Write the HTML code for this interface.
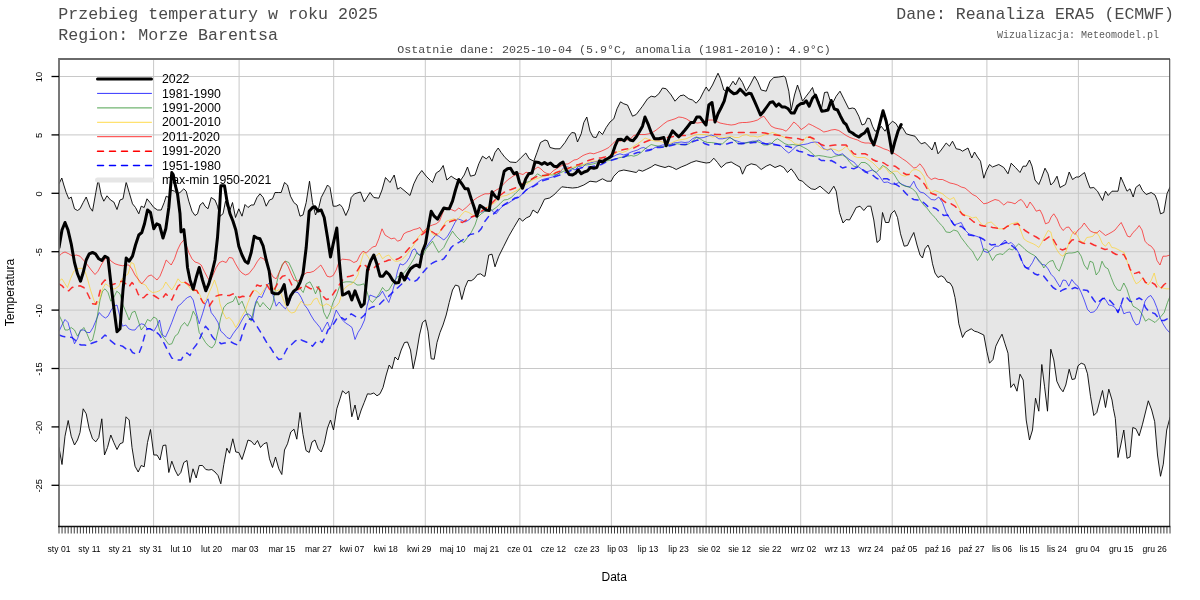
<!DOCTYPE html>
<html lang="pl"><head><meta charset="utf-8"><title>Przebieg temperatury w roku 2025</title>
<style>html,body{margin:0;padding:0;background:#fff;}body{width:1200px;height:600px;overflow:hidden;}svg{display:block;will-change:transform;}.mono{font-family:"Liberation Mono",monospace;fill:#4a4a4a;}.sans{font-family:"Liberation Sans",sans-serif;fill:#000;}</style></head><body>
<svg width="1200" height="600" viewBox="0 0 1200 600">
<rect width="1200" height="600" fill="#fff"/>
<defs><clipPath id="c"><rect x="59.0" y="59.0" width="1111.0" height="467.5"/></clipPath></defs>
<polygon clip-path="url(#c)" points="59.0,183.8 61.8,178.0 63.8,185.0 66.2,192.5 68.8,198.8 71.2,197.0 74.5,208.8 77.5,210.5 80.0,208.8 83.2,202.5 86.2,197.0 90.0,207.5 92.5,211.2 95.8,192.5 98.2,179.5 101.2,195.0 103.8,201.2 107.0,195.8 110.5,200.0 113.8,202.0 117.0,209.5 120.0,200.0 123.0,198.8 126.2,182.0 129.2,192.5 132.5,203.8 135.5,207.5 138.8,213.8 141.2,206.2 144.2,207.5 147.0,198.8 150.0,202.5 153.8,207.5 157.5,210.0 161.2,210.0 164.2,202.5 166.2,196.2 168.8,197.5 171.2,190.0 174.5,191.2 177.5,193.8 180.0,192.5 183.8,188.8 186.2,191.2 188.8,201.2 192.0,211.2 195.0,215.5 197.5,213.8 200.0,205.0 203.0,202.5 205.0,206.2 208.0,208.8 211.2,197.5 215.0,200.0 217.5,206.2 220.0,216.2 223.0,213.8 225.5,201.2 227.5,207.5 230.0,210.0 232.5,202.5 235.5,217.5 238.8,208.8 242.0,216.2 245.0,204.5 248.0,207.5 251.2,205.0 253.8,205.0 257.0,197.5 260.0,193.8 263.2,197.5 266.2,206.2 269.5,200.0 272.5,198.8 275.0,192.5 278.2,192.5 281.2,192.5 284.5,182.5 287.5,185.0 290.5,196.2 293.8,202.5 297.0,205.0 300.0,216.2 303.0,215.0 306.2,202.5 309.5,181.2 312.5,202.5 315.5,215.0 318.8,207.5 321.2,197.5 324.5,191.2 327.5,185.0 330.0,187.5 333.2,206.2 336.2,206.2 340.0,204.5 342.5,207.5 345.8,215.5 348.8,208.8 351.2,197.5 354.5,193.8 360.5,192.0 364.2,201.8 370.0,192.5 373.8,197.5 378.8,198.2 382.0,190.0 385.5,177.5 390.0,182.5 394.2,175.0 397.5,189.2 400.5,187.5 405.0,191.2 410.0,195.5 413.8,183.8 417.5,176.2 421.8,170.5 426.2,176.2 432.5,182.5 436.2,173.0 440.0,170.5 443.2,165.5 446.8,180.0 451.2,176.2 455.0,178.8 460.0,181.2 464.2,175.0 467.5,167.0 470.5,176.2 475.0,175.0 478.8,163.8 482.5,156.2 486.2,158.8 489.2,156.2 492.0,161.2 495.0,152.5 498.2,148.0 501.2,152.5 505.0,157.5 510.0,162.0 516.2,162.5 521.2,157.5 525.8,153.0 529.2,158.8 533.8,161.2 537.0,152.5 540.5,142.5 545.0,140.0 547.5,140.8 550.0,147.5 555.0,148.8 560.0,148.8 565.0,142.5 568.8,136.2 571.8,132.5 575.0,133.0 577.5,142.0 581.2,133.8 583.8,122.5 586.8,117.0 590.0,131.2 593.0,137.0 596.2,137.5 599.2,131.2 602.5,134.5 606.2,127.5 610.0,122.0 613.8,118.8 617.0,108.8 620.5,101.8 623.8,103.8 627.5,105.0 632.5,116.2 636.2,114.5 642.5,106.2 647.5,98.8 651.2,96.2 655.0,97.0 658.8,93.8 662.5,88.0 666.2,88.8 671.2,95.0 675.0,101.2 680.0,95.8 683.8,95.0 688.8,98.8 692.5,100.0 696.2,103.2 700.0,98.8 703.8,91.2 706.2,87.0 708.8,91.2 712.5,85.0 716.2,77.0 718.0,73.2 720.5,78.8 723.8,90.0 726.2,91.2 730.0,86.2 733.0,81.2 735.5,85.0 739.2,77.5 742.5,82.5 746.2,91.2 750.0,85.0 754.5,76.2 757.5,81.2 761.2,90.0 766.2,91.2 770.0,81.2 773.8,77.5 778.8,77.0 783.8,76.2 785.5,77.5 788.8,91.2 791.2,110.0 794.5,95.0 797.5,85.0 800.0,92.5 802.5,101.2 806.2,96.2 810.0,91.2 812.5,87.5 815.0,96.2 818.8,101.2 821.2,110.0 824.5,92.5 827.5,92.0 830.0,100.0 833.0,102.5 836.2,96.2 840.0,91.2 843.8,98.8 848.8,108.8 852.5,108.0 855.0,108.8 858.8,116.2 862.0,125.0 865.0,123.8 867.5,118.0 870.0,118.8 872.5,126.2 875.0,131.2 878.8,130.0 881.2,126.2 885.0,131.2 888.8,125.0 892.5,121.2 896.2,123.8 898.8,128.8 902.5,127.5 906.2,133.8 910.0,135.0 915.0,136.2 918.8,141.2 921.2,143.8 925.0,142.5 928.8,146.2 932.0,150.0 935.0,142.0 938.0,153.8 941.2,150.0 946.2,143.0 949.5,146.2 952.5,141.2 955.0,146.2 956.2,148.8 960.0,149.5 962.5,151.2 968.0,148.0 971.8,158.0 974.5,152.0 977.5,157.0 980.5,161.2 983.8,178.2 986.2,171.2 989.5,164.5 992.5,167.0 998.8,164.5 1003.8,167.5 1008.0,173.8 1011.2,163.2 1015.5,167.5 1020.0,172.5 1023.0,166.2 1026.2,166.2 1029.5,160.0 1032.0,166.2 1035.0,180.0 1038.8,184.5 1041.2,178.8 1045.0,168.2 1048.0,173.8 1050.8,185.0 1053.8,182.0 1057.0,176.2 1060.0,187.5 1065.5,184.5 1069.2,172.0 1072.5,179.5 1076.2,177.0 1078.8,177.0 1084.5,172.5 1087.0,180.0 1090.0,188.0 1093.8,187.5 1097.5,191.2 1102.5,200.5 1105.5,191.2 1108.2,195.5 1112.0,191.2 1118.0,191.2 1120.8,177.0 1123.8,183.8 1127.0,191.2 1130.0,188.8 1133.2,197.0 1135.8,187.5 1139.5,184.5 1142.5,190.5 1146.2,194.5 1151.2,192.5 1155.0,195.0 1157.5,201.2 1160.5,213.8 1163.8,212.5 1167.0,193.8 1170.0,187.0 1170.0,417.5 1166.7,430.0 1163.3,464.2 1160.5,476.3 1157.5,455.0 1154.7,421.7 1151.7,410.0 1148.3,400.8 1142.5,424.2 1139.2,435.8 1135.8,428.7 1132.8,427.5 1130.0,457.0 1127.0,458.3 1123.8,430.0 1120.8,445.0 1118.0,457.5 1116.7,436.7 1115.3,418.3 1113.3,408.3 1112.0,400.0 1108.8,389.2 1105.5,407.5 1102.5,390.5 1100.0,400.0 1096.8,412.5 1093.8,415.5 1090.5,396.2 1087.5,373.8 1084.5,364.5 1081.2,363.2 1078.0,365.8 1075.0,378.8 1072.0,379.5 1069.2,369.2 1065.8,385.0 1063.0,391.8 1060.0,388.0 1056.8,381.2 1053.8,360.0 1050.8,349.2 1047.5,411.2 1044.5,386.2 1041.8,364.5 1038.8,411.2 1035.5,398.2 1032.5,430.0 1029.5,440.0 1026.2,420.0 1023.2,380.0 1020.0,374.2 1017.0,391.2 1013.8,383.8 1010.8,387.5 1008.0,353.2 1005.0,343.8 1002.0,334.2 998.8,340.0 995.8,346.2 993.0,359.5 989.5,363.2 986.8,351.2 983.8,335.0 977.5,332.0 974.5,331.2 971.2,328.8 965.5,332.0 962.5,337.5 958.8,323.8 957.0,310.0 955.0,297.5 952.5,287.0 950.0,283.0 947.0,282.0 944.2,277.5 941.2,275.8 938.0,277.5 935.0,273.0 932.5,263.8 930.0,250.0 928.0,245.0 925.0,248.8 922.5,258.0 920.0,255.0 917.0,245.0 913.8,232.5 910.5,238.8 907.5,245.5 904.2,246.2 900.5,233.8 897.5,217.5 894.5,210.5 891.2,213.8 888.8,222.5 885.5,222.5 882.5,212.5 880.0,240.0 877.0,242.5 873.8,220.0 870.8,206.2 867.5,206.2 863.8,210.5 860.0,206.2 856.2,207.5 853.0,213.8 849.5,220.0 846.2,219.5 843.0,223.0 839.5,212.5 836.2,191.2 833.8,186.2 828.8,193.8 823.8,189.5 820.0,186.2 815.0,189.5 811.2,188.8 806.2,185.0 802.5,181.2 798.8,180.0 795.0,173.8 791.2,168.8 787.5,172.5 783.8,167.5 780.0,165.5 775.0,167.5 770.0,164.5 766.2,166.2 761.2,169.5 756.2,165.0 751.2,163.8 746.2,166.2 742.5,174.2 740.0,167.0 736.2,165.0 731.2,162.0 726.2,163.2 721.2,167.5 717.5,162.5 713.8,158.2 710.0,162.5 706.2,163.0 701.2,162.0 696.2,160.8 691.2,162.5 686.2,165.0 681.2,167.0 676.2,169.5 672.5,167.5 668.8,166.2 665.0,167.5 660.0,166.2 655.0,164.5 651.2,167.0 646.2,169.5 642.5,171.2 638.8,170.0 636.2,172.5 630.0,171.2 623.8,170.0 618.8,171.2 613.8,176.2 611.2,181.2 607.0,181.2 602.5,178.8 596.2,182.0 590.0,181.2 583.8,185.0 577.5,187.5 572.5,188.0 567.5,187.5 561.8,186.8 557.5,191.2 553.8,195.0 549.5,198.0 544.5,199.2 541.2,206.2 537.5,213.2 533.0,210.0 530.0,216.2 526.2,218.0 522.5,221.2 519.5,218.0 513.8,227.5 508.8,236.2 503.8,246.2 498.8,256.2 495.0,266.8 492.0,254.2 488.8,255.0 485.0,276.2 483.8,276.2 480.5,273.8 477.5,274.5 474.2,278.8 471.2,280.8 468.0,280.5 465.0,287.5 461.8,299.5 458.8,286.2 455.5,285.0 452.5,290.0 449.2,302.5 446.2,315.0 443.0,325.0 440.0,332.5 437.0,342.5 434.2,359.2 431.2,358.8 428.0,331.2 425.5,320.0 422.5,322.5 419.5,335.0 416.2,355.0 413.2,368.8 410.5,350.0 407.5,342.0 404.5,342.5 401.2,350.0 398.0,360.0 395.0,357.0 392.0,368.8 389.2,365.0 386.2,375.0 383.0,387.5 380.0,393.8 377.0,395.8 373.8,393.0 370.5,394.2 367.5,393.8 364.2,402.5 361.2,410.0 358.0,420.0 355.0,405.0 351.8,416.8 348.8,391.2 345.8,393.8 342.5,390.8 340.0,398.8 336.8,408.8 333.5,430.0 330.5,420.0 327.5,428.0 324.2,443.8 321.2,452.0 318.2,448.8 315.0,440.0 312.0,442.0 309.2,452.5 306.0,450.5 303.0,434.5 300.0,412.5 296.8,439.2 294.0,429.2 290.8,432.0 287.5,443.8 284.5,450.0 281.8,474.5 278.8,468.8 275.5,457.0 272.5,467.5 269.5,458.8 266.8,442.5 263.8,443.8 260.5,447.5 257.5,440.5 254.5,445.0 251.2,441.2 248.0,440.0 245.0,450.0 242.0,459.5 238.8,452.5 235.8,452.0 232.8,438.8 229.5,453.2 226.8,448.2 223.8,464.5 220.8,483.8 218.0,475.5 215.0,472.0 211.8,469.5 208.8,470.0 205.8,469.5 202.5,465.5 199.2,465.5 196.2,478.0 193.0,468.8 190.0,482.5 187.0,460.5 183.8,462.5 180.8,472.5 178.0,475.8 175.0,470.0 171.8,461.2 168.8,472.5 165.8,445.0 163.0,445.5 160.0,460.0 157.0,455.0 153.8,455.0 150.5,429.5 147.5,442.5 144.2,466.8 141.2,465.5 138.2,472.0 135.0,466.2 132.0,447.5 129.2,420.0 126.0,416.8 123.0,442.5 120.0,443.8 117.0,449.5 113.8,442.5 110.8,435.0 107.5,447.5 104.5,455.0 101.8,418.8 98.8,437.5 95.8,441.8 92.5,438.8 89.2,428.8 86.2,413.8 83.2,408.8 80.0,432.5 77.5,440.0 74.5,445.0 71.2,436.2 68.2,420.5 65.0,436.2 62.0,464.5 59.0,447.5" fill="#e6e6e6"/>
<line x1="153.6" y1="59.0" x2="153.6" y2="526.5" stroke="#c8c8c8" stroke-width="1"/>
<line x1="239.1" y1="59.0" x2="239.1" y2="526.5" stroke="#c8c8c8" stroke-width="1"/>
<line x1="333.7" y1="59.0" x2="333.7" y2="526.5" stroke="#c8c8c8" stroke-width="1"/>
<line x1="425.3" y1="59.0" x2="425.3" y2="526.5" stroke="#c8c8c8" stroke-width="1"/>
<line x1="519.9" y1="59.0" x2="519.9" y2="526.5" stroke="#c8c8c8" stroke-width="1"/>
<line x1="611.4" y1="59.0" x2="611.4" y2="526.5" stroke="#c8c8c8" stroke-width="1"/>
<line x1="706.1" y1="59.0" x2="706.1" y2="526.5" stroke="#c8c8c8" stroke-width="1"/>
<line x1="800.7" y1="59.0" x2="800.7" y2="526.5" stroke="#c8c8c8" stroke-width="1"/>
<line x1="892.2" y1="59.0" x2="892.2" y2="526.5" stroke="#c8c8c8" stroke-width="1"/>
<line x1="986.9" y1="59.0" x2="986.9" y2="526.5" stroke="#c8c8c8" stroke-width="1"/>
<line x1="1078.4" y1="59.0" x2="1078.4" y2="526.5" stroke="#c8c8c8" stroke-width="1"/>
<line x1="59.0" y1="76.5" x2="1170.0" y2="76.5" stroke="#c8c8c8" stroke-width="1"/>
<line x1="59.0" y1="134.9" x2="1170.0" y2="134.9" stroke="#c8c8c8" stroke-width="1"/>
<line x1="59.0" y1="193.3" x2="1170.0" y2="193.3" stroke="#c8c8c8" stroke-width="1"/>
<line x1="59.0" y1="251.7" x2="1170.0" y2="251.7" stroke="#c8c8c8" stroke-width="1"/>
<line x1="59.0" y1="310.1" x2="1170.0" y2="310.1" stroke="#c8c8c8" stroke-width="1"/>
<line x1="59.0" y1="368.5" x2="1170.0" y2="368.5" stroke="#c8c8c8" stroke-width="1"/>
<line x1="59.0" y1="426.9" x2="1170.0" y2="426.9" stroke="#c8c8c8" stroke-width="1"/>
<line x1="59.0" y1="485.3" x2="1170.0" y2="485.3" stroke="#c8c8c8" stroke-width="1"/>
<g clip-path="url(#c)" fill="none" stroke-linejoin="round" stroke-linecap="round">
<polyline points="59.0,183.8 61.8,178.0 63.8,185.0 66.2,192.5 68.8,198.8 71.2,197.0 74.5,208.8 77.5,210.5 80.0,208.8 83.2,202.5 86.2,197.0 90.0,207.5 92.5,211.2 95.8,192.5 98.2,179.5 101.2,195.0 103.8,201.2 107.0,195.8 110.5,200.0 113.8,202.0 117.0,209.5 120.0,200.0 123.0,198.8 126.2,182.0 129.2,192.5 132.5,203.8 135.5,207.5 138.8,213.8 141.2,206.2 144.2,207.5 147.0,198.8 150.0,202.5 153.8,207.5 157.5,210.0 161.2,210.0 164.2,202.5 166.2,196.2 168.8,197.5 171.2,190.0 174.5,191.2 177.5,193.8 180.0,192.5 183.8,188.8 186.2,191.2 188.8,201.2 192.0,211.2 195.0,215.5 197.5,213.8 200.0,205.0 203.0,202.5 205.0,206.2 208.0,208.8 211.2,197.5 215.0,200.0 217.5,206.2 220.0,216.2 223.0,213.8 225.5,201.2 227.5,207.5 230.0,210.0 232.5,202.5 235.5,217.5 238.8,208.8 242.0,216.2 245.0,204.5 248.0,207.5 251.2,205.0 253.8,205.0 257.0,197.5 260.0,193.8 263.2,197.5 266.2,206.2 269.5,200.0 272.5,198.8 275.0,192.5 278.2,192.5 281.2,192.5 284.5,182.5 287.5,185.0 290.5,196.2 293.8,202.5 297.0,205.0 300.0,216.2 303.0,215.0 306.2,202.5 309.5,181.2 312.5,202.5 315.5,215.0 318.8,207.5 321.2,197.5 324.5,191.2 327.5,185.0 330.0,187.5 333.2,206.2 336.2,206.2 340.0,204.5 342.5,207.5 345.8,215.5 348.8,208.8 351.2,197.5 354.5,193.8 360.5,192.0 364.2,201.8 370.0,192.5 373.8,197.5 378.8,198.2 382.0,190.0 385.5,177.5 390.0,182.5 394.2,175.0 397.5,189.2 400.5,187.5 405.0,191.2 410.0,195.5 413.8,183.8 417.5,176.2 421.8,170.5 426.2,176.2 432.5,182.5 436.2,173.0 440.0,170.5 443.2,165.5 446.8,180.0 451.2,176.2 455.0,178.8 460.0,181.2 464.2,175.0 467.5,167.0 470.5,176.2 475.0,175.0 478.8,163.8 482.5,156.2 486.2,158.8 489.2,156.2 492.0,161.2 495.0,152.5 498.2,148.0 501.2,152.5 505.0,157.5 510.0,162.0 516.2,162.5 521.2,157.5 525.8,153.0 529.2,158.8 533.8,161.2 537.0,152.5 540.5,142.5 545.0,140.0 547.5,140.8 550.0,147.5 555.0,148.8 560.0,148.8 565.0,142.5 568.8,136.2 571.8,132.5 575.0,133.0 577.5,142.0 581.2,133.8 583.8,122.5 586.8,117.0 590.0,131.2 593.0,137.0 596.2,137.5 599.2,131.2 602.5,134.5 606.2,127.5 610.0,122.0 613.8,118.8 617.0,108.8 620.5,101.8 623.8,103.8 627.5,105.0 632.5,116.2 636.2,114.5 642.5,106.2 647.5,98.8 651.2,96.2 655.0,97.0 658.8,93.8 662.5,88.0 666.2,88.8 671.2,95.0 675.0,101.2 680.0,95.8 683.8,95.0 688.8,98.8 692.5,100.0 696.2,103.2 700.0,98.8 703.8,91.2 706.2,87.0 708.8,91.2 712.5,85.0 716.2,77.0 718.0,73.2 720.5,78.8 723.8,90.0 726.2,91.2 730.0,86.2 733.0,81.2 735.5,85.0 739.2,77.5 742.5,82.5 746.2,91.2 750.0,85.0 754.5,76.2 757.5,81.2 761.2,90.0 766.2,91.2 770.0,81.2 773.8,77.5 778.8,77.0 783.8,76.2 785.5,77.5 788.8,91.2 791.2,110.0 794.5,95.0 797.5,85.0 800.0,92.5 802.5,101.2 806.2,96.2 810.0,91.2 812.5,87.5 815.0,96.2 818.8,101.2 821.2,110.0 824.5,92.5 827.5,92.0 830.0,100.0 833.0,102.5 836.2,96.2 840.0,91.2 843.8,98.8 848.8,108.8 852.5,108.0 855.0,108.8 858.8,116.2 862.0,125.0 865.0,123.8 867.5,118.0 870.0,118.8 872.5,126.2 875.0,131.2 878.8,130.0 881.2,126.2 885.0,131.2 888.8,125.0 892.5,121.2 896.2,123.8 898.8,128.8 902.5,127.5 906.2,133.8 910.0,135.0 915.0,136.2 918.8,141.2 921.2,143.8 925.0,142.5 928.8,146.2 932.0,150.0 935.0,142.0 938.0,153.8 941.2,150.0 946.2,143.0 949.5,146.2 952.5,141.2 955.0,146.2 956.2,148.8 960.0,149.5 962.5,151.2 968.0,148.0 971.8,158.0 974.5,152.0 977.5,157.0 980.5,161.2 983.8,178.2 986.2,171.2 989.5,164.5 992.5,167.0 998.8,164.5 1003.8,167.5 1008.0,173.8 1011.2,163.2 1015.5,167.5 1020.0,172.5 1023.0,166.2 1026.2,166.2 1029.5,160.0 1032.0,166.2 1035.0,180.0 1038.8,184.5 1041.2,178.8 1045.0,168.2 1048.0,173.8 1050.8,185.0 1053.8,182.0 1057.0,176.2 1060.0,187.5 1065.5,184.5 1069.2,172.0 1072.5,179.5 1076.2,177.0 1078.8,177.0 1084.5,172.5 1087.0,180.0 1090.0,188.0 1093.8,187.5 1097.5,191.2 1102.5,200.5 1105.5,191.2 1108.2,195.5 1112.0,191.2 1118.0,191.2 1120.8,177.0 1123.8,183.8 1127.0,191.2 1130.0,188.8 1133.2,197.0 1135.8,187.5 1139.5,184.5 1142.5,190.5 1146.2,194.5 1151.2,192.5 1155.0,195.0 1157.5,201.2 1160.5,213.8 1163.8,212.5 1167.0,193.8 1170.0,187.0" stroke="#000" stroke-width="0.9"/>
<polyline points="59.0,447.5 62.0,464.5 65.0,436.2 68.2,420.5 71.2,436.2 74.5,445.0 77.5,440.0 80.0,432.5 83.2,408.8 86.2,413.8 89.2,428.8 92.5,438.8 95.8,441.8 98.8,437.5 101.8,418.8 104.5,455.0 107.5,447.5 110.8,435.0 113.8,442.5 117.0,449.5 120.0,443.8 123.0,442.5 126.0,416.8 129.2,420.0 132.0,447.5 135.0,466.2 138.2,472.0 141.2,465.5 144.2,466.8 147.5,442.5 150.5,429.5 153.8,455.0 157.0,455.0 160.0,460.0 163.0,445.5 165.8,445.0 168.8,472.5 171.8,461.2 175.0,470.0 178.0,475.8 180.8,472.5 183.8,462.5 187.0,460.5 190.0,482.5 193.0,468.8 196.2,478.0 199.2,465.5 202.5,465.5 205.8,469.5 208.8,470.0 211.8,469.5 215.0,472.0 218.0,475.5 220.8,483.8 223.8,464.5 226.8,448.2 229.5,453.2 232.8,438.8 235.8,452.0 238.8,452.5 242.0,459.5 245.0,450.0 248.0,440.0 251.2,441.2 254.5,445.0 257.5,440.5 260.5,447.5 263.8,443.8 266.8,442.5 269.5,458.8 272.5,467.5 275.5,457.0 278.8,468.8 281.8,474.5 284.5,450.0 287.5,443.8 290.8,432.0 294.0,429.2 296.8,439.2 300.0,412.5 303.0,434.5 306.0,450.5 309.2,452.5 312.0,442.0 315.0,440.0 318.2,448.8 321.2,452.0 324.2,443.8 327.5,428.0 330.5,420.0 333.5,430.0 336.8,408.8 340.0,398.8 342.5,390.8 345.8,393.8 348.8,391.2 351.8,416.8 355.0,405.0 358.0,420.0 361.2,410.0 364.2,402.5 367.5,393.8 370.5,394.2 373.8,393.0 377.0,395.8 380.0,393.8 383.0,387.5 386.2,375.0 389.2,365.0 392.0,368.8 395.0,357.0 398.0,360.0 401.2,350.0 404.5,342.5 407.5,342.0 410.5,350.0 413.2,368.8 416.2,355.0 419.5,335.0 422.5,322.5 425.5,320.0 428.0,331.2 431.2,358.8 434.2,359.2 437.0,342.5 440.0,332.5 443.0,325.0 446.2,315.0 449.2,302.5 452.5,290.0 455.5,285.0 458.8,286.2 461.8,299.5 465.0,287.5 468.0,280.5 471.2,280.8 474.2,278.8 477.5,274.5 480.5,273.8 483.8,276.2 485.0,276.2 488.8,255.0 492.0,254.2 495.0,266.8 498.8,256.2 503.8,246.2 508.8,236.2 513.8,227.5 519.5,218.0 522.5,221.2 526.2,218.0 530.0,216.2 533.0,210.0 537.5,213.2 541.2,206.2 544.5,199.2 549.5,198.0 553.8,195.0 557.5,191.2 561.8,186.8 567.5,187.5 572.5,188.0 577.5,187.5 583.8,185.0 590.0,181.2 596.2,182.0 602.5,178.8 607.0,181.2 611.2,181.2 613.8,176.2 618.8,171.2 623.8,170.0 630.0,171.2 636.2,172.5 638.8,170.0 642.5,171.2 646.2,169.5 651.2,167.0 655.0,164.5 660.0,166.2 665.0,167.5 668.8,166.2 672.5,167.5 676.2,169.5 681.2,167.0 686.2,165.0 691.2,162.5 696.2,160.8 701.2,162.0 706.2,163.0 710.0,162.5 713.8,158.2 717.5,162.5 721.2,167.5 726.2,163.2 731.2,162.0 736.2,165.0 740.0,167.0 742.5,174.2 746.2,166.2 751.2,163.8 756.2,165.0 761.2,169.5 766.2,166.2 770.0,164.5 775.0,167.5 780.0,165.5 783.8,167.5 787.5,172.5 791.2,168.8 795.0,173.8 798.8,180.0 802.5,181.2 806.2,185.0 811.2,188.8 815.0,189.5 820.0,186.2 823.8,189.5 828.8,193.8 833.8,186.2 836.2,191.2 839.5,212.5 843.0,223.0 846.2,219.5 849.5,220.0 853.0,213.8 856.2,207.5 860.0,206.2 863.8,210.5 867.5,206.2 870.8,206.2 873.8,220.0 877.0,242.5 880.0,240.0 882.5,212.5 885.5,222.5 888.8,222.5 891.2,213.8 894.5,210.5 897.5,217.5 900.5,233.8 904.2,246.2 907.5,245.5 910.5,238.8 913.8,232.5 917.0,245.0 920.0,255.0 922.5,258.0 925.0,248.8 928.0,245.0 930.0,250.0 932.5,263.8 935.0,273.0 938.0,277.5 941.2,275.8 944.2,277.5 947.0,282.0 950.0,283.0 952.5,287.0 955.0,297.5 957.0,310.0 958.8,323.8 962.5,337.5 965.5,332.0 971.2,328.8 974.5,331.2 977.5,332.0 983.8,335.0 986.8,351.2 989.5,363.2 993.0,359.5 995.8,346.2 998.8,340.0 1002.0,334.2 1005.0,343.8 1008.0,353.2 1010.8,387.5 1013.8,383.8 1017.0,391.2 1020.0,374.2 1023.2,380.0 1026.2,420.0 1029.5,440.0 1032.5,430.0 1035.5,398.2 1038.8,411.2 1041.8,364.5 1044.5,386.2 1047.5,411.2 1050.8,349.2 1053.8,360.0 1056.8,381.2 1060.0,388.0 1063.0,391.8 1065.8,385.0 1069.2,369.2 1072.0,379.5 1075.0,378.8 1078.0,365.8 1081.2,363.2 1084.5,364.5 1087.5,373.8 1090.5,396.2 1093.8,415.5 1096.8,412.5 1100.0,400.0 1102.5,390.5 1105.5,407.5 1108.8,389.2 1112.0,400.0 1113.3,408.3 1115.3,418.3 1116.7,436.7 1118.0,457.5 1120.8,445.0 1123.8,430.0 1127.0,458.3 1130.0,457.0 1132.8,427.5 1135.8,428.7 1139.2,435.8 1142.5,424.2 1148.3,400.8 1151.7,410.0 1154.7,421.7 1157.5,455.0 1160.5,476.3 1163.3,464.2 1166.7,430.0 1170.0,417.5" stroke="#000" stroke-width="0.9"/>
<polyline points="59.0,331.2 62.0,325.0 65.0,319.5 68.0,322.5 71.2,333.8 74.5,343.8 77.5,338.8 80.5,330.0 83.8,330.0 87.0,332.5 90.0,332.5 93.0,327.5 96.2,320.0 99.2,312.5 102.5,316.2 105.5,318.0 108.0,316.2 111.2,310.0 114.2,306.2 117.0,305.0 119.5,315.0 122.5,326.2 125.8,325.0 128.8,328.8 132.0,330.0 135.0,330.0 138.0,326.2 141.2,323.8 144.2,324.5 147.5,328.8 150.5,328.8 153.8,331.2 156.8,326.2 159.5,320.0 162.5,335.0 165.5,337.0 168.8,330.0 171.8,322.5 175.0,313.8 178.0,306.2 181.2,303.8 184.5,300.0 187.5,297.5 190.5,296.2 193.2,300.0 196.2,312.5 199.2,323.8 202.5,313.8 205.5,303.8 208.0,298.8 211.2,312.5 215.0,317.5 218.0,322.5 220.8,331.2 223.8,333.8 227.0,337.5 230.0,338.8 233.0,333.8 235.8,330.0 238.8,326.2 242.0,320.0 245.0,315.0 248.0,313.8 251.2,316.2 252.5,320.0 255.5,302.5 258.8,296.2 261.8,297.5 265.0,290.0 268.0,283.8 270.5,282.5 273.0,295.0 276.2,306.2 279.2,302.0 282.5,306.2 285.5,308.8 288.8,303.8 291.8,295.0 295.0,292.0 298.0,292.5 301.2,297.5 304.5,305.0 307.5,308.8 310.8,315.0 313.8,320.0 317.0,323.8 320.0,327.5 322.0,332.0 325.0,326.2 327.5,322.0 330.0,328.8 333.0,320.0 336.2,310.0 339.2,315.0 342.5,320.0 345.5,323.0 348.8,325.0 352.0,327.5 355.0,339.5 358.0,332.5 361.2,327.5 364.5,320.0 367.0,306.2 370.0,295.0 373.0,296.2 376.2,297.5 379.2,296.2 382.5,291.2 385.8,297.5 388.8,302.5 391.8,293.8 395.0,282.5 397.5,271.2 400.0,263.8 403.0,265.0 406.2,262.5 409.5,257.5 412.5,250.0 415.0,248.8 417.5,253.8 420.0,255.0 423.0,251.2 426.2,247.5 429.5,242.5 432.5,238.8 435.8,235.0 438.8,236.2 443.8,240.0 447.5,236.2 451.2,230.0 455.0,222.5 457.5,218.8 461.2,220.0 465.0,222.0 468.8,220.0 472.5,216.2 476.2,215.0 480.0,212.5 483.8,211.2 487.5,210.0 491.2,209.5 493.8,212.5 496.2,213.8 500.0,208.8 503.8,205.0 507.5,203.8 511.2,201.2 515.0,198.8 518.8,197.5 522.5,193.8 526.2,190.0 530.0,187.5 533.8,185.5 537.5,182.5 541.2,180.0 545.0,178.8 548.8,178.0 552.5,177.0 556.2,175.0 560.0,172.5 563.8,167.5 567.5,167.0 571.2,168.0 575.0,170.0 578.8,166.2 582.5,167.5 586.2,163.8 590.0,163.0 593.8,162.0 597.5,161.2 601.2,160.0 605.0,158.8 608.8,158.0 612.5,157.0 616.2,155.0 620.0,153.8 623.8,155.0 627.5,153.8 631.2,152.0 633.8,151.2 637.5,150.0 641.2,148.0 643.8,147.5 647.5,149.5 651.2,150.0 655.0,147.5 658.8,146.2 662.5,145.0 666.2,145.0 670.0,144.5 673.8,143.0 677.5,142.5 681.2,142.0 685.0,142.5 688.8,142.0 692.5,138.8 696.2,137.0 700.0,138.0 703.8,137.5 707.5,136.2 711.2,135.0 715.0,136.2 718.8,138.8 722.5,138.8 726.2,138.0 730.0,137.5 733.8,140.0 737.5,141.2 741.2,142.5 745.0,143.0 748.8,142.0 752.5,141.2 756.2,141.2 758.8,140.0 762.5,142.5 766.2,143.8 770.0,143.0 773.8,143.8 777.5,145.0 781.2,146.2 785.0,150.0 788.8,153.0 792.5,150.0 796.2,146.2 800.0,145.0 803.8,144.5 807.5,143.8 811.2,142.5 815.0,142.0 818.8,142.5 823.8,148.8 827.5,150.0 831.2,148.8 835.0,153.8 838.8,155.0 842.5,153.8 846.2,157.0 850.0,160.0 853.8,162.0 857.5,166.2 861.2,168.8 865.0,172.5 868.8,171.2 872.5,170.0 876.2,172.5 880.0,177.0 883.8,182.5 887.5,182.0 891.2,183.8 895.0,184.5 898.8,182.5 902.5,184.5 906.2,186.2 910.0,187.0 913.8,181.2 916.2,187.0 920.0,192.0 923.8,193.0 927.5,196.2 931.2,199.5 935.0,200.0 938.8,197.0 942.5,202.5 946.2,212.5 950.0,218.8 953.8,225.0 957.5,223.8 961.2,222.5 965.0,230.0 968.8,233.8 972.5,235.0 976.2,236.2 980.0,237.5 983.8,251.2 987.5,252.5 991.2,250.0 995.0,246.2 998.8,246.2 1003.0,242.5 1005.0,240.0 1008.0,243.8 1011.2,242.5 1014.2,245.5 1017.0,250.0 1020.0,255.5 1023.0,263.8 1026.2,268.0 1029.2,267.5 1032.5,262.5 1035.5,256.2 1038.8,261.2 1041.8,264.5 1045.0,265.0 1048.0,268.8 1051.2,274.5 1054.2,277.5 1057.5,283.0 1060.0,287.0 1063.0,280.0 1065.8,280.5 1068.8,286.2 1071.8,279.5 1075.0,283.8 1078.0,286.2 1081.2,292.5 1084.2,300.0 1087.5,309.5 1090.5,312.5 1093.8,312.0 1096.8,308.8 1099.5,303.8 1102.5,298.0 1105.5,299.5 1108.8,305.0 1111.8,305.5 1115.0,307.5 1118.0,312.5 1120.8,305.0 1123.8,313.8 1126.8,312.5 1130.0,312.0 1133.0,320.0 1136.2,325.0 1139.2,323.8 1142.0,312.5 1145.0,301.2 1148.0,297.0 1150.8,295.5 1153.8,300.0 1156.8,307.5 1160.0,317.5 1163.0,323.8 1166.2,328.8 1170.0,333.0" stroke="#0000ff" stroke-width="0.8" stroke-opacity="0.8"/>
<polyline points="59.0,315.0 62.0,321.2 65.0,330.0 68.0,330.0 71.2,327.5 74.5,330.0 77.5,336.2 80.5,331.2 83.8,327.5 87.0,333.8 90.0,341.2 92.5,340.0 95.0,330.0 97.5,315.0 100.0,300.0 102.5,291.2 105.0,288.8 108.0,292.5 110.8,301.2 113.8,297.5 116.8,291.2 120.0,293.8 123.0,305.0 126.2,312.5 129.2,320.0 132.0,312.5 135.0,311.2 138.0,320.0 141.2,330.0 144.2,326.2 147.5,319.5 150.5,321.2 153.8,317.0 156.8,318.8 159.5,330.0 162.5,336.2 165.5,340.0 168.8,344.5 171.8,343.8 175.0,336.2 178.0,333.8 181.2,326.2 184.5,322.5 187.5,326.2 190.5,320.0 193.2,311.2 196.2,316.2 199.2,332.5 202.5,337.5 205.5,342.5 208.8,346.2 212.0,348.0 215.0,343.8 218.0,331.2 220.8,317.5 223.8,307.5 227.0,303.8 230.0,302.5 233.2,301.2 235.8,296.2 238.8,305.0 242.0,301.2 245.0,308.8 248.0,316.2 251.2,321.2 253.8,308.8 257.0,301.2 260.0,307.0 263.0,302.5 266.2,306.2 270.0,310.0 273.0,302.5 276.2,285.0 279.2,272.5 282.5,263.8 285.5,261.2 288.8,262.5 291.8,268.8 295.0,276.2 298.0,283.8 301.2,290.0 303.2,292.5 306.2,283.8 310.0,281.8 313.0,287.5 315.5,293.8 318.8,286.2 321.2,300.0 323.8,312.5 327.0,318.8 330.0,312.5 333.0,302.5 336.2,296.2 339.2,287.5 342.5,282.5 346.2,281.8 350.0,281.8 353.8,282.5 357.0,285.0 360.0,285.0 363.8,283.8 366.8,291.2 369.5,300.0 372.5,302.5 375.8,298.8 379.2,293.8 382.5,287.5 385.8,291.2 388.8,290.0 391.8,285.0 395.0,280.0 398.0,276.2 401.2,277.0 404.2,272.5 407.5,268.8 410.8,263.8 413.8,258.8 417.0,252.5 420.0,256.2 423.0,255.0 426.2,248.8 429.5,245.0 432.5,241.2 435.8,247.5 438.8,252.5 443.8,247.5 447.5,240.0 452.5,231.2 456.2,236.2 460.0,240.0 463.8,242.5 467.5,237.5 471.2,232.5 475.0,225.0 477.5,217.5 481.2,213.8 485.0,211.2 488.8,210.5 492.5,210.0 496.2,207.5 500.0,203.8 503.8,200.0 507.5,199.5 511.2,197.5 515.0,193.8 518.8,190.0 522.5,186.2 526.2,182.5 530.0,181.2 533.8,177.5 537.5,173.8 541.2,176.2 545.0,175.0 548.8,174.5 552.5,175.0 556.2,174.5 560.0,173.0 563.8,171.2 567.5,170.5 571.2,169.5 575.0,167.5 578.8,165.5 582.5,165.0 586.2,165.0 590.0,164.5 593.8,163.8 597.5,162.5 601.2,162.0 605.0,161.2 608.8,160.5 612.5,159.5 616.2,158.8 620.0,157.5 623.8,157.0 627.5,156.2 631.2,155.5 633.8,156.2 637.5,155.0 641.2,152.5 645.0,148.8 648.8,146.2 651.2,144.5 655.0,145.5 658.8,146.2 662.5,147.0 666.2,146.2 670.0,145.0 673.8,144.5 677.5,143.8 681.2,144.5 685.0,145.0 688.8,143.8 692.5,141.2 696.2,137.5 700.0,138.8 703.8,141.2 707.5,142.5 711.2,142.5 715.0,143.0 718.8,143.8 722.5,143.8 726.2,140.5 730.0,137.5 733.8,140.0 737.5,143.0 741.2,143.8 745.0,143.0 748.8,142.5 752.5,142.0 756.2,141.2 760.0,142.5 763.8,145.0 767.5,145.0 771.2,143.8 775.0,140.0 777.5,138.8 781.2,141.2 785.0,143.8 788.8,145.0 792.5,144.5 796.2,145.0 800.0,145.5 803.8,147.5 807.5,149.5 811.2,152.5 815.0,156.2 818.8,155.5 823.8,156.2 827.5,157.0 831.2,157.5 835.0,156.2 838.8,155.5 842.5,155.0 846.2,157.5 850.0,162.5 853.8,166.2 857.5,167.0 861.2,162.5 865.0,162.5 868.8,165.0 872.5,170.0 876.2,172.5 880.0,168.8 882.5,165.5 886.2,167.5 890.0,171.2 893.8,173.8 897.5,180.0 901.2,184.5 905.0,186.2 908.8,187.0 912.5,188.8 916.2,192.5 920.0,200.0 923.8,205.0 927.5,208.8 931.2,213.8 935.0,217.5 938.8,222.5 942.5,226.2 946.2,232.0 950.0,232.5 953.8,230.0 957.5,231.2 961.2,237.5 965.0,242.5 968.8,247.5 972.5,251.2 975.0,256.2 977.5,260.5 981.2,255.0 983.8,248.8 987.5,250.0 992.5,260.5 996.2,255.0 1000.0,253.8 1003.0,254.5 1006.2,251.2 1009.2,248.8 1012.5,250.0 1015.5,247.0 1018.8,243.8 1021.8,246.2 1025.0,249.5 1028.2,252.0 1031.2,253.8 1034.5,255.5 1037.5,258.8 1040.8,262.5 1043.8,268.0 1046.8,263.8 1050.0,261.2 1053.0,260.5 1056.2,268.0 1059.2,271.2 1062.5,262.5 1065.5,253.8 1068.8,253.0 1071.8,253.0 1075.0,252.5 1078.0,251.2 1081.2,256.2 1084.2,265.0 1087.5,269.5 1090.0,261.2 1093.0,262.5 1096.2,275.0 1099.2,271.2 1102.0,261.2 1105.0,267.0 1108.0,268.8 1111.2,277.5 1114.2,285.0 1117.5,290.0 1120.5,290.5 1123.8,283.0 1126.8,288.8 1130.0,298.8 1133.0,306.2 1136.2,308.0 1139.2,310.0 1142.5,315.0 1145.5,321.2 1148.8,318.8 1151.8,320.5 1155.0,322.5 1158.0,319.5 1161.2,316.2 1164.2,312.5 1167.5,302.5 1170.0,296.2" stroke="#228b22" stroke-width="0.8" stroke-opacity="0.8"/>
<polyline points="59.0,281.2 62.0,278.8 65.0,283.8 67.5,287.5 70.5,278.8 73.8,271.2 77.5,268.8 81.2,268.2 84.5,270.0 87.5,278.8 90.5,290.0 93.8,300.0 96.2,305.0 99.2,301.2 102.5,288.8 105.5,283.8 108.8,286.2 112.0,288.8 115.0,288.8 118.8,286.2 122.0,278.8 125.0,276.2 128.2,273.8 131.2,262.5 133.8,263.8 136.2,272.5 139.2,282.5 142.5,283.8 145.5,285.0 148.8,290.0 152.5,292.5 156.2,292.0 160.0,290.5 163.0,287.5 165.8,282.0 168.8,286.2 171.8,290.0 175.0,285.0 178.0,278.8 181.2,282.5 184.5,282.5 187.5,285.0 190.5,288.8 193.8,291.2 196.8,290.0 200.0,295.0 203.0,302.5 206.2,300.0 209.2,292.5 212.0,286.2 214.5,280.0 217.5,288.8 220.0,303.8 223.0,312.5 226.2,318.8 229.2,317.5 232.5,321.2 235.8,327.5 238.8,322.5 242.0,316.2 245.0,311.2 248.0,302.5 251.2,295.0 253.8,290.0 257.0,291.2 260.5,295.0 263.8,290.0 267.0,285.0 270.0,283.8 273.0,287.5 276.2,291.2 279.2,289.5 282.5,297.5 285.5,305.0 288.8,311.2 291.8,313.0 295.0,312.0 298.0,306.2 301.2,301.2 304.5,304.5 307.5,305.0 310.8,304.5 313.8,299.5 317.0,298.0 320.0,304.5 323.0,306.2 326.2,303.8 329.2,305.0 332.5,308.8 336.2,306.2 339.2,302.5 342.5,291.2 345.5,287.5 348.8,285.0 352.0,283.8 355.0,280.0 358.0,275.0 360.8,262.5 363.8,252.5 366.8,255.0 370.0,260.0 373.0,258.8 376.2,256.2 379.2,253.0 382.5,258.8 385.8,256.2 388.8,255.0 391.8,258.8 395.0,261.2 398.0,261.2 401.2,260.0 404.2,257.5 407.5,253.8 410.8,248.8 413.8,245.0 417.0,238.8 420.0,235.0 423.0,231.2 426.2,230.0 429.5,228.8 432.5,233.8 436.2,236.2 439.5,232.5 443.0,226.2 446.2,221.2 450.0,220.0 453.8,218.8 457.5,220.0 461.2,215.0 465.0,211.2 468.8,212.5 472.5,215.0 476.2,216.2 480.0,212.5 483.8,210.0 487.5,207.0 491.2,205.0 495.0,202.5 498.8,198.8 502.5,196.2 506.2,195.5 510.0,193.8 513.8,192.0 517.5,190.0 521.2,187.5 525.0,185.0 528.8,182.5 532.5,180.0 536.2,178.8 540.0,177.5 543.8,176.2 547.5,175.0 551.2,174.5 555.0,173.0 558.8,172.0 562.5,169.5 566.2,167.5 570.0,168.0 573.8,167.0 577.5,165.5 581.2,166.2 585.0,163.8 588.8,162.5 592.5,161.2 596.2,161.2 600.0,160.0 603.8,159.5 607.5,157.5 611.2,156.2 615.0,153.8 618.8,151.2 622.5,152.5 626.2,151.2 630.0,148.8 633.8,146.2 637.5,143.8 641.2,141.2 645.0,138.0 648.8,139.5 652.5,140.5 656.2,141.2 660.0,141.2 663.8,142.5 667.5,143.8 671.2,143.0 675.0,141.2 678.8,140.0 682.5,139.5 686.2,138.8 690.0,137.0 693.8,135.5 697.5,134.5 701.2,134.5 705.0,134.5 708.8,135.5 712.5,137.0 716.2,136.2 720.0,137.0 723.8,137.5 727.5,137.0 731.2,136.2 735.0,137.5 738.8,137.5 742.5,135.5 746.2,134.5 750.0,136.2 753.8,136.2 757.5,137.0 761.2,136.2 765.0,134.5 768.8,133.8 772.5,132.5 776.2,133.8 780.0,135.5 783.8,137.0 787.5,138.8 791.2,140.5 795.0,143.8 798.8,144.5 802.5,142.5 806.2,137.0 810.0,137.5 813.8,141.2 817.5,145.0 821.2,148.0 823.8,149.5 827.5,149.5 831.2,148.8 835.0,149.5 838.8,151.2 842.5,149.5 846.2,146.2 850.0,151.2 853.8,156.2 857.5,157.5 861.2,157.5 865.0,157.5 868.8,160.0 872.5,162.5 876.2,166.2 880.0,170.0 883.8,166.2 886.2,168.8 890.0,173.8 893.8,171.2 897.5,171.2 901.2,175.0 905.0,176.2 908.8,174.5 912.5,170.0 916.2,169.5 920.0,171.2 923.8,176.2 927.5,187.0 931.2,192.5 935.0,190.5 938.8,192.0 942.5,193.8 946.2,197.0 950.0,199.5 953.8,197.5 957.5,205.0 961.2,212.5 965.0,215.0 968.8,216.2 972.5,218.0 976.2,217.0 980.0,222.5 983.8,226.2 987.5,223.0 991.2,222.0 995.0,225.5 998.8,228.8 1003.8,228.8 1007.5,226.2 1011.2,223.8 1015.0,223.0 1017.5,222.0 1020.5,230.0 1023.8,238.8 1027.0,241.2 1030.0,242.5 1033.2,243.8 1036.2,245.5 1038.8,247.5 1041.8,242.5 1045.0,236.2 1048.0,230.5 1050.8,232.0 1053.8,243.8 1057.0,250.0 1060.0,254.5 1063.0,256.2 1065.8,252.0 1068.8,243.8 1071.8,234.5 1074.5,231.2 1077.5,236.2 1080.5,241.2 1083.8,242.5 1086.8,237.5 1090.0,237.0 1093.0,236.2 1096.2,232.0 1099.2,236.2 1102.5,243.8 1105.5,246.2 1108.8,242.0 1111.8,247.5 1115.0,248.0 1118.0,249.5 1121.2,251.2 1124.2,252.5 1127.5,262.5 1130.5,271.2 1133.8,279.5 1136.2,283.8 1139.2,282.0 1142.5,278.0 1145.5,282.0 1148.2,285.0 1151.2,280.5 1154.2,273.0 1157.0,283.8 1160.0,287.5 1163.0,288.0 1166.2,288.8 1170.0,288.8" stroke="#ffd21e" stroke-width="0.8" stroke-opacity="0.8"/>
<polyline points="59.0,256.2 62.0,253.2 65.0,252.0 68.8,253.8 72.5,256.2 76.2,255.0 80.0,256.2 83.8,260.5 87.5,265.0 91.2,270.0 95.0,274.5 98.0,271.2 101.2,265.0 105.0,258.8 108.0,257.5 111.2,261.2 115.0,263.8 118.8,265.0 122.5,265.8 125.8,265.0 128.8,265.0 131.8,268.8 135.0,275.0 138.8,280.0 141.8,283.8 145.0,280.0 148.0,276.2 151.2,275.0 154.2,277.5 157.0,280.0 160.0,276.2 163.0,268.8 166.2,260.0 168.8,262.5 171.2,265.0 174.5,258.8 177.5,250.0 180.5,243.8 183.8,240.0 186.2,245.0 188.8,252.5 192.0,258.8 195.0,262.0 198.2,263.0 201.2,265.0 204.2,271.2 207.5,277.5 210.0,281.2 213.0,275.0 216.2,267.5 219.5,262.5 222.5,261.2 226.2,262.5 229.2,257.5 232.5,258.0 235.5,263.8 238.8,269.5 242.0,273.0 245.5,275.0 248.8,273.8 253.8,267.5 257.5,261.2 260.5,257.5 263.8,258.8 267.0,263.8 270.0,271.2 273.0,277.0 276.2,278.8 279.2,272.5 282.5,265.0 285.0,261.2 288.0,266.2 291.2,273.8 294.2,280.0 297.5,281.2 300.8,278.8 303.8,274.5 307.0,272.5 310.0,272.5 313.8,271.2 317.5,268.0 320.8,265.0 323.8,270.0 327.0,276.2 330.0,277.0 333.2,275.5 336.2,270.0 339.2,261.2 342.5,259.2 346.2,259.5 350.0,260.0 353.8,262.5 357.0,261.2 360.0,255.0 363.0,251.2 366.2,253.0 369.5,250.0 372.5,247.0 375.8,246.2 378.8,238.8 382.0,228.8 385.0,235.0 388.2,237.0 391.2,238.8 394.5,238.0 397.5,241.2 400.8,240.0 403.8,233.8 407.0,232.0 410.0,231.2 413.8,229.5 417.0,228.8 420.0,227.5 423.0,232.5 426.2,228.8 429.5,226.2 432.5,225.0 436.2,223.8 439.5,221.2 443.8,210.0 447.5,207.5 451.2,209.5 455.0,211.2 458.8,208.0 462.5,210.5 466.2,207.5 470.0,203.8 473.8,200.0 477.5,197.5 481.2,195.5 485.0,193.8 488.8,193.8 492.5,192.5 496.2,190.0 500.0,188.0 503.8,183.8 507.5,180.0 511.2,177.5 514.0,175.5 517.0,174.5 519.5,173.5 523.0,174.5 526.0,172.2 529.0,173.0 532.0,172.0 535.0,169.0 538.0,167.0 541.0,169.0 544.0,172.0 547.0,173.5 550.0,174.0 553.0,171.0 556.0,169.0 559.0,167.0 562.0,165.5 565.0,164.0 568.0,164.0 571.0,162.0 574.0,160.0 577.0,159.5 580.0,157.5 583.0,155.5 586.2,154.2 590.0,153.0 593.8,153.8 597.5,152.5 601.2,151.2 605.0,149.5 608.8,147.5 612.5,143.8 616.2,140.5 620.0,141.2 623.8,140.0 627.5,140.0 631.2,138.0 633.8,135.5 637.5,134.5 641.2,134.5 645.0,134.5 648.8,133.8 652.5,132.5 656.2,130.0 660.0,127.0 663.8,123.8 667.5,121.2 671.2,120.0 675.0,118.8 678.8,117.0 682.5,117.5 686.2,118.8 690.0,121.2 693.8,122.5 697.5,123.0 701.2,122.5 705.0,121.2 708.8,120.0 712.5,120.0 716.2,121.2 720.0,123.0 723.8,123.8 727.5,124.5 731.2,125.0 735.0,124.5 738.8,123.0 742.5,122.5 746.2,122.5 750.0,122.0 753.8,121.2 757.5,120.0 761.2,117.5 763.8,116.2 767.5,121.2 771.2,126.2 775.0,128.0 778.8,128.8 782.5,129.5 786.2,131.2 790.0,127.0 793.8,122.0 797.5,125.0 801.2,129.5 805.0,127.0 808.8,123.8 812.5,125.5 816.2,127.5 820.0,129.5 823.8,132.0 827.5,131.2 831.2,130.0 835.0,129.5 838.8,130.5 842.5,133.0 846.2,135.5 850.0,137.5 853.8,138.8 857.5,140.0 861.2,142.0 865.0,143.0 868.8,143.0 872.5,143.8 876.2,145.5 880.0,147.0 883.8,148.8 887.5,150.0 891.2,152.0 895.0,153.8 898.8,156.2 902.5,158.8 906.2,161.2 910.0,164.5 913.8,168.0 916.2,167.5 920.0,163.8 923.8,168.8 927.5,176.2 931.2,179.5 935.0,178.0 938.8,179.5 942.5,179.5 946.2,181.2 950.0,183.0 953.8,183.8 957.5,185.0 961.2,187.0 965.0,188.0 968.8,191.2 972.5,194.5 976.2,196.2 980.0,200.0 983.8,203.8 987.5,203.0 991.2,201.2 995.0,199.5 998.8,200.5 1003.8,205.0 1007.5,202.0 1011.2,202.5 1015.0,203.8 1018.8,200.5 1021.2,199.5 1023.8,202.5 1027.0,208.0 1030.0,202.0 1033.2,206.2 1036.2,211.2 1040.0,210.0 1042.5,215.0 1045.5,223.8 1048.8,222.5 1051.2,217.0 1053.8,213.8 1057.0,218.8 1060.0,226.2 1063.0,230.5 1066.2,227.5 1068.8,227.0 1071.8,231.2 1075.0,234.5 1078.0,230.0 1081.2,227.5 1084.2,223.0 1087.5,227.5 1090.5,231.2 1093.8,232.5 1096.8,233.0 1099.5,230.5 1102.5,233.0 1105.5,235.5 1108.8,233.8 1112.0,232.0 1115.0,230.0 1118.0,226.2 1121.2,222.5 1124.2,228.8 1127.5,236.2 1130.0,237.0 1133.0,232.5 1136.2,229.5 1139.2,225.5 1142.0,230.0 1145.0,241.2 1148.0,244.5 1151.2,246.2 1154.2,250.0 1157.0,260.5 1160.0,265.0 1163.0,256.2 1166.2,256.2 1170.0,255.0" stroke="#ff0000" stroke-width="0.8" stroke-opacity="0.8"/>
<polyline points="59.0,335.0 62.5,336.2 65.5,337.0 68.8,337.0 72.0,337.5 75.0,340.0 78.0,343.8 81.2,345.0 84.5,345.0 87.5,345.5 90.5,343.8 93.8,342.5 97.5,341.2 101.2,338.8 105.0,335.0 108.0,337.5 111.2,341.2 115.0,344.2 118.8,345.0 122.5,346.2 125.8,348.8 129.2,347.5 132.5,352.5 135.5,353.8 138.8,353.8 141.8,346.2 144.5,336.2 147.0,328.8 150.0,328.8 153.0,330.5 156.2,332.0 159.5,335.0 162.5,340.0 165.5,346.2 168.8,352.5 171.8,358.0 175.0,359.5 178.0,360.0 181.2,360.0 183.8,355.0 187.0,353.0 190.0,355.5 193.2,348.8 196.2,345.0 199.2,340.0 202.5,332.5 205.5,326.2 208.8,330.0 212.0,336.2 215.0,340.0 218.0,341.2 221.2,343.8 224.5,343.0 228.0,342.5 231.2,342.0 234.5,343.8 237.5,345.0 240.5,340.0 243.8,328.8 246.8,321.2 250.0,318.8 253.0,320.0 256.2,325.0 260.0,331.2 263.8,337.5 267.5,343.8 271.2,348.8 275.0,355.0 278.8,359.5 282.0,358.8 285.0,352.5 288.0,347.0 291.2,345.0 295.0,341.2 298.8,338.8 302.5,340.5 306.2,342.0 310.0,343.8 312.5,346.2 315.5,342.5 318.8,340.0 322.0,342.5 325.0,337.5 328.2,329.5 331.2,327.5 334.5,322.5 337.5,317.5 341.2,317.5 345.0,320.0 348.8,316.2 351.2,313.8 355.0,316.2 358.0,318.0 361.2,318.0 364.5,315.0 367.5,310.0 371.2,307.5 375.0,306.2 378.8,305.0 381.8,302.0 385.0,298.8 388.0,297.0 391.2,293.8 395.0,290.0 398.0,287.5 401.2,284.5 404.2,281.2 407.5,277.5 410.8,281.2 413.8,281.8 417.0,280.0 420.0,276.2 423.0,272.5 426.2,268.8 429.5,265.0 432.5,263.0 436.2,261.2 439.5,261.2 443.8,258.8 447.5,253.8 451.2,247.5 455.0,243.8 458.8,242.5 462.5,240.0 466.2,237.5 470.0,234.5 473.8,233.8 477.5,233.0 481.2,228.8 485.0,221.2 488.8,216.2 492.5,215.0 496.2,211.2 500.0,207.5 503.8,205.0 507.5,202.5 511.2,200.5 515.0,198.0 518.8,197.0 522.5,193.8 526.2,190.0 530.0,187.5 533.8,186.2 537.5,183.8 541.2,181.2 545.0,180.0 548.8,178.8 552.5,177.5 556.2,176.2 560.0,175.0 563.8,173.0 567.5,172.0 571.2,170.5 575.0,169.5 578.8,168.8 582.5,167.5 586.2,167.0 590.0,167.0 593.8,166.2 597.5,165.5 601.2,164.5 605.0,162.5 608.8,161.2 612.5,160.0 616.2,158.8 620.0,158.0 623.8,157.0 627.5,155.0 631.2,153.8 633.8,153.8 637.5,152.5 641.2,152.0 645.0,151.2 648.8,150.5 652.5,148.8 656.2,147.5 660.0,147.5 663.8,147.0 667.5,146.2 671.2,145.5 675.0,144.5 678.8,144.5 682.5,144.5 686.2,144.5 690.0,143.0 693.8,141.2 697.5,140.0 701.2,141.2 705.0,143.8 708.8,145.0 712.5,144.5 716.2,143.8 720.0,144.5 723.8,144.5 727.5,143.8 731.2,142.5 735.0,142.5 738.8,143.8 742.5,143.8 746.2,143.0 750.0,143.0 753.8,142.5 757.5,142.5 761.2,143.0 765.0,143.8 768.8,144.5 772.5,144.5 776.2,145.0 780.0,145.5 783.8,146.2 787.5,146.2 791.2,147.5 795.0,149.5 798.8,151.2 802.5,152.0 806.2,153.8 810.0,155.5 813.8,156.2 817.5,158.0 821.2,160.5 823.8,160.5 827.5,161.2 831.2,160.5 835.0,162.5 838.8,165.5 842.5,168.0 846.2,167.0 850.0,168.0 853.8,168.8 857.5,167.0 861.2,168.8 865.0,171.2 868.8,173.8 872.5,175.0 876.2,178.0 880.0,180.0 883.8,178.8 887.5,178.8 891.2,181.2 895.0,183.8 898.8,186.2 902.5,189.5 906.2,193.8 910.0,197.5 913.8,199.5 917.5,200.0 921.2,200.5 925.0,203.8 928.8,207.5 932.5,207.5 936.2,208.8 940.0,212.0 943.8,215.5 947.5,215.0 950.0,218.8 953.8,224.5 957.5,227.5 961.2,226.2 965.0,229.5 968.8,235.0 972.5,235.5 976.2,236.2 980.0,237.5 983.8,239.5 987.5,242.5 991.2,245.0 995.0,244.5 998.8,245.5 1003.0,243.8 1006.2,242.5 1009.2,243.8 1012.5,246.2 1015.5,248.8 1018.8,253.8 1021.8,261.2 1025.0,267.0 1028.2,268.8 1031.2,270.0 1034.5,273.8 1037.5,275.0 1040.8,273.8 1043.8,276.2 1046.8,280.0 1050.0,283.8 1053.0,287.5 1056.2,289.5 1059.5,292.0 1062.5,290.0 1065.5,288.8 1068.8,288.8 1071.8,288.8 1075.0,287.5 1078.0,288.8 1081.2,290.0 1084.2,290.0 1087.5,290.5 1090.5,295.0 1093.8,300.0 1096.8,303.8 1099.5,301.2 1102.5,298.8 1105.5,298.0 1108.8,299.5 1111.8,302.5 1115.0,306.2 1118.0,312.5 1120.8,305.5 1123.8,296.2 1126.8,297.5 1130.0,301.2 1133.0,302.0 1136.2,299.5 1139.2,298.0 1142.5,300.0 1145.5,307.5 1148.8,311.2 1151.8,312.5 1155.0,313.8 1158.0,317.5 1161.2,320.5 1164.2,320.5 1167.5,318.8 1170.0,318.0" stroke="#0000ff" stroke-width="1.5" stroke-dasharray="6 6" stroke-opacity="0.8"/>
<polyline points="59.0,283.8 62.5,286.2 65.5,290.0 68.8,290.8 72.0,287.5 76.2,286.2 80.0,285.8 83.8,287.5 87.0,292.5 90.0,298.8 92.5,303.8 95.8,304.2 98.8,296.2 101.8,283.8 105.0,280.0 108.2,281.2 111.2,285.0 115.0,283.8 118.8,281.8 122.5,281.2 125.8,283.8 128.8,287.0 132.0,282.5 135.0,286.2 138.0,293.8 140.8,298.0 143.8,297.5 146.8,294.5 150.0,294.5 153.8,295.5 157.0,297.5 160.0,299.5 163.0,297.5 165.8,293.8 168.8,297.0 171.8,300.0 175.0,292.5 178.0,286.2 181.2,283.8 184.5,282.0 187.5,283.8 190.8,286.2 193.8,290.0 196.8,290.5 200.0,297.0 203.0,302.5 206.2,305.0 209.2,306.2 212.5,301.2 215.8,296.2 219.5,295.0 223.0,294.5 226.2,295.5 229.5,295.5 233.0,293.8 236.2,295.5 239.5,297.5 242.5,296.2 246.2,297.0 250.0,296.2 253.8,290.0 257.0,285.0 260.5,286.2 263.8,283.8 267.0,285.0 270.0,290.0 273.0,291.2 276.2,286.2 279.2,280.0 282.5,276.2 285.5,275.5 288.8,278.8 291.8,285.0 295.0,288.8 298.0,289.5 301.2,287.5 304.5,285.0 307.5,287.0 310.8,288.8 313.8,288.8 317.0,287.0 320.0,290.0 323.0,296.2 326.2,299.5 329.2,298.8 332.5,295.0 335.8,290.0 339.2,285.0 342.5,280.0 346.2,277.0 350.0,276.2 353.8,275.0 357.0,271.2 360.0,266.2 363.0,263.8 366.2,266.2 369.5,270.0 372.5,269.5 375.8,266.2 379.2,263.8 382.5,262.0 385.8,261.2 388.8,260.0 392.0,260.0 395.0,260.0 398.0,258.8 401.2,257.0 404.2,253.8 407.5,250.0 410.8,246.2 413.8,242.5 417.0,240.0 420.0,236.2 423.0,233.8 426.2,231.2 429.5,230.0 432.5,232.0 436.2,234.5 439.5,232.0 443.8,226.2 447.5,223.0 451.2,221.2 455.0,220.0 458.8,221.2 462.5,222.5 466.2,220.0 470.0,217.5 473.8,216.2 477.5,215.0 481.2,211.2 485.0,208.8 488.8,206.2 492.5,202.5 496.2,198.8 500.0,195.5 503.8,192.5 507.5,190.5 511.2,189.5 515.0,188.0 518.8,186.2 522.5,183.8 526.2,181.2 530.0,180.0 533.8,178.0 537.5,176.2 541.2,175.5 545.0,175.5 548.8,175.0 552.5,174.5 556.2,172.5 560.0,171.2 563.8,170.0 567.5,168.8 571.2,167.0 575.0,165.5 578.8,164.5 582.5,163.0 586.2,161.2 590.0,160.0 593.8,158.8 597.5,158.0 601.2,158.0 605.0,157.0 608.8,155.5 612.5,153.8 616.2,152.0 620.0,150.5 623.8,149.5 627.5,148.8 631.2,148.0 633.8,148.0 637.5,146.2 641.2,143.8 645.0,142.0 648.8,140.5 652.5,140.0 656.2,139.5 660.0,139.5 663.8,138.8 667.5,137.5 671.2,137.0 675.0,136.2 678.8,135.5 682.5,135.5 686.2,135.5 690.0,134.5 693.8,133.0 697.5,132.0 701.2,132.0 705.0,132.0 708.8,132.5 712.5,133.8 716.2,134.5 720.0,134.5 723.8,133.8 727.5,133.0 731.2,132.5 735.0,132.5 738.8,132.5 742.5,132.5 746.2,132.5 750.0,132.5 753.8,132.5 757.5,132.5 761.2,132.5 765.0,133.0 768.8,133.8 772.5,134.5 776.2,135.0 780.0,135.5 783.8,137.0 787.5,137.5 791.2,138.0 795.0,138.0 798.8,138.8 802.5,140.0 806.2,137.5 810.0,137.0 813.8,138.8 817.5,142.0 821.2,144.5 823.8,145.5 827.5,146.2 831.2,145.5 835.0,145.0 838.8,145.5 842.5,145.0 846.2,145.0 850.0,149.5 853.8,153.8 857.5,154.5 861.2,153.8 865.0,153.8 868.8,155.5 872.5,159.5 876.2,161.2 880.0,161.2 883.8,163.0 887.5,165.5 891.2,165.5 895.0,166.2 898.8,168.8 902.5,172.5 906.2,174.5 910.0,174.5 913.8,175.0 917.5,177.0 921.2,180.0 925.0,185.0 928.8,192.0 932.5,193.8 936.2,195.0 940.0,197.5 943.8,201.2 947.5,203.8 951.2,203.8 955.0,206.2 958.8,210.0 962.5,214.5 966.2,216.2 970.0,218.8 973.8,222.0 977.5,223.8 981.2,225.5 985.0,226.2 988.8,226.2 992.5,227.5 996.2,228.0 1000.0,228.8 1003.8,228.8 1007.5,226.2 1011.2,225.0 1015.0,224.5 1018.0,223.8 1021.2,227.0 1025.0,230.5 1028.8,233.0 1032.5,235.0 1036.2,237.0 1040.0,239.5 1043.0,241.2 1046.2,238.8 1050.0,236.2 1053.0,238.8 1056.2,244.5 1059.5,248.8 1062.5,250.0 1065.5,248.8 1068.8,243.8 1072.0,240.0 1075.0,239.5 1078.8,241.2 1082.5,243.0 1086.2,243.8 1090.0,243.0 1093.8,245.0 1097.5,246.2 1101.2,248.0 1105.0,249.5 1108.8,248.8 1112.5,252.5 1116.2,254.5 1120.0,255.0 1123.8,254.5 1126.8,260.0 1130.0,268.8 1133.0,273.8 1136.2,273.0 1139.2,272.0 1142.5,277.5 1145.5,282.5 1148.8,283.0 1151.8,282.5 1155.0,284.5 1158.0,288.8 1161.2,288.0 1164.2,284.5 1167.5,282.0 1170.0,280.5" stroke="#ff0000" stroke-width="1.5" stroke-dasharray="6 6" stroke-opacity="0.8"/>
<polyline points="59.0,247.5 62.0,230.0 65.0,222.5 68.0,230.0 71.2,243.8 74.5,262.5 77.5,273.8 80.5,281.2 83.2,272.5 86.2,260.0 89.2,253.8 92.5,252.5 95.5,253.8 98.8,258.8 101.8,260.5 105.0,256.2 108.0,258.0 110.8,282.5 113.8,307.5 117.0,331.8 120.0,328.8 123.0,290.0 126.2,258.0 129.2,261.2 132.5,256.2 135.5,245.0 138.8,235.0 141.8,232.5 144.5,223.8 147.5,210.0 150.5,212.5 153.8,228.8 156.8,223.8 159.5,225.0 163.0,238.0 165.8,228.8 168.8,207.5 171.8,172.5 173.2,174.5 175.5,186.2 177.5,193.8 180.0,213.8 181.0,232.0 183.8,229.5 185.8,247.5 187.5,267.5 190.0,280.0 193.2,289.2 196.2,277.5 199.2,267.5 202.5,280.0 205.8,290.8 208.8,283.8 212.0,272.5 215.0,260.0 217.5,237.5 219.5,210.0 220.8,185.8 224.5,185.8 227.0,201.2 230.0,213.8 233.0,221.2 235.8,230.0 238.8,246.2 242.0,255.0 245.0,261.2 248.0,263.2 251.2,252.5 254.2,236.2 257.0,238.0 260.0,238.8 263.2,246.2 266.2,260.0 269.2,271.2 272.0,292.5 275.0,293.8 278.2,293.8 281.2,291.2 284.2,284.5 287.5,304.5 290.5,296.2 293.8,291.2 296.8,288.8 300.0,282.5 303.0,273.8 306.2,247.5 309.2,211.2 312.5,207.5 315.0,206.8 318.0,211.2 321.2,210.0 324.2,217.5 327.5,237.5 330.5,257.0 333.2,243.8 336.8,228.0 339.2,260.0 342.5,295.0 345.5,293.8 348.8,291.8 351.8,300.0 355.0,290.8 358.0,298.8 361.2,306.8 364.2,303.8 367.5,270.0 370.5,261.2 373.8,255.0 376.8,263.8 380.0,276.2 383.0,276.2 386.2,271.8 389.2,274.5 392.5,280.0 395.5,283.0 398.8,282.5 401.2,273.2 404.5,280.0 407.5,273.8 410.5,268.8 413.8,266.2 416.8,265.0 419.5,267.0 422.5,251.2 425.5,243.8 428.0,228.8 431.2,211.2 434.2,216.2 437.5,219.2 440.5,213.8 443.8,208.0 446.8,208.8 449.2,208.8 452.5,201.2 455.5,190.0 458.8,179.5 461.8,183.8 465.0,188.8 468.0,188.8 471.2,198.8 474.2,207.5 476.8,216.2 480.0,205.5 483.0,207.5 486.2,210.0 489.2,210.5 492.0,191.8 495.0,196.2 498.2,198.8 501.2,185.0 504.2,171.2 507.5,168.8 510.5,168.2 513.8,173.8 516.8,172.5 519.5,182.5 522.5,188.2 525.8,178.8 528.8,173.8 532.0,173.0 535.0,162.0 538.8,162.5 541.8,164.2 544.5,162.5 547.5,164.5 550.5,163.0 553.8,166.2 556.8,166.8 560.0,163.8 563.0,162.0 566.2,170.0 569.2,174.5 572.5,175.0 575.5,173.2 578.2,170.0 581.2,173.8 584.2,172.0 587.5,170.8 590.5,167.5 593.8,168.2 596.8,167.5 599.5,160.8 602.5,162.0 605.8,159.5 608.8,158.0 611.8,155.8 615.0,146.2 618.0,139.5 621.2,139.2 624.2,140.8 627.0,137.0 630.0,140.0 633.0,140.8 636.2,137.0 639.2,132.0 642.5,126.2 645.0,117.0 648.0,123.8 651.2,132.5 654.5,138.8 658.8,138.8 663.8,137.5 666.2,145.8 669.2,137.5 672.5,130.8 675.5,133.8 678.8,136.8 681.8,133.8 685.0,130.0 688.0,126.2 690.8,122.5 693.8,122.5 696.8,117.0 700.0,117.0 703.0,121.2 706.0,125.0 708.8,105.0 712.0,102.5 715.0,122.0 718.0,113.8 721.2,107.5 724.2,101.2 727.5,88.0 730.5,91.2 733.8,93.8 736.8,93.0 740.0,89.2 743.0,92.0 745.8,95.0 748.8,93.2 751.2,93.8 754.5,101.2 757.5,108.0 760.5,115.0 763.8,111.2 766.8,107.0 770.0,102.5 773.0,101.8 776.2,106.2 778.8,103.8 782.0,107.0 785.0,107.0 788.2,108.8 791.2,113.0 794.2,113.0 797.5,106.2 800.5,103.8 803.8,103.2 806.2,100.8 809.2,106.2 812.5,98.2 815.5,95.0 818.8,103.8 821.8,111.2 825.0,110.8 828.0,110.0 831.2,100.5 834.2,108.8 837.5,110.0 840.5,116.2 843.8,122.5 846.2,124.5 849.2,131.2 852.5,133.0 855.0,135.0 858.8,137.0 861.8,134.5 864.5,133.0 867.5,128.8 870.5,138.8 873.8,145.0 876.8,135.0 880.0,122.5 883.0,110.8 886.2,121.2 889.2,136.2 892.0,153.0 895.0,141.2 898.0,131.2 901.2,124.5" stroke="#000" stroke-width="3"/>
</g>
<path d="M59.0 526.5V59.0H1170.0" fill="none" stroke="#6a6a6a" stroke-width="1.8" stroke-linejoin="miter"/>
<line x1="1169.7" y1="59.0" x2="1169.7" y2="526.5" stroke="#4a4a4a" stroke-width="1.1"/>
<line x1="58.1" y1="526.5" x2="1170.3" y2="526.5" stroke="#111" stroke-width="1.3"/>
<path d="M59.00 526.5v7M62.05 526.5v7M65.10 526.5v7M68.16 526.5v7M71.21 526.5v7M74.26 526.5v7M77.31 526.5v7M80.37 526.5v7M83.42 526.5v7M86.47 526.5v7M89.52 526.5v7M92.57 526.5v7M95.63 526.5v7M98.68 526.5v7M101.73 526.5v7M104.78 526.5v7M107.84 526.5v7M110.89 526.5v7M113.94 526.5v7M116.99 526.5v7M120.04 526.5v7M123.10 526.5v7M126.15 526.5v7M129.20 526.5v7M132.25 526.5v7M135.30 526.5v7M138.36 526.5v7M141.41 526.5v7M144.46 526.5v7M147.51 526.5v7M150.57 526.5v7M153.62 526.5v7M156.67 526.5v7M159.72 526.5v7M162.77 526.5v7M165.83 526.5v7M168.88 526.5v7M171.93 526.5v7M174.98 526.5v7M178.04 526.5v7M181.09 526.5v7M184.14 526.5v7M187.19 526.5v7M190.24 526.5v7M193.30 526.5v7M196.35 526.5v7M199.40 526.5v7M202.45 526.5v7M205.51 526.5v7M208.56 526.5v7M211.61 526.5v7M214.66 526.5v7M217.71 526.5v7M220.77 526.5v7M223.82 526.5v7M226.87 526.5v7M229.92 526.5v7M232.98 526.5v7M236.03 526.5v7M239.08 526.5v7M242.13 526.5v7M245.18 526.5v7M248.24 526.5v7M251.29 526.5v7M254.34 526.5v7M257.39 526.5v7M260.45 526.5v7M263.50 526.5v7M266.55 526.5v7M269.60 526.5v7M272.65 526.5v7M275.71 526.5v7M278.76 526.5v7M281.81 526.5v7M284.86 526.5v7M287.91 526.5v7M290.97 526.5v7M294.02 526.5v7M297.07 526.5v7M300.12 526.5v7M303.18 526.5v7M306.23 526.5v7M309.28 526.5v7M312.33 526.5v7M315.38 526.5v7M318.44 526.5v7M321.49 526.5v7M324.54 526.5v7M327.59 526.5v7M330.65 526.5v7M333.70 526.5v7M336.75 526.5v7M339.80 526.5v7M342.85 526.5v7M345.91 526.5v7M348.96 526.5v7M352.01 526.5v7M355.06 526.5v7M358.12 526.5v7M361.17 526.5v7M364.22 526.5v7M367.27 526.5v7M370.32 526.5v7M373.38 526.5v7M376.43 526.5v7M379.48 526.5v7M382.53 526.5v7M385.59 526.5v7M388.64 526.5v7M391.69 526.5v7M394.74 526.5v7M397.79 526.5v7M400.85 526.5v7M403.90 526.5v7M406.95 526.5v7M410.00 526.5v7M413.05 526.5v7M416.11 526.5v7M419.16 526.5v7M422.21 526.5v7M425.26 526.5v7M428.32 526.5v7M431.37 526.5v7M434.42 526.5v7M437.47 526.5v7M440.52 526.5v7M443.58 526.5v7M446.63 526.5v7M449.68 526.5v7M452.73 526.5v7M455.79 526.5v7M458.84 526.5v7M461.89 526.5v7M464.94 526.5v7M467.99 526.5v7M471.05 526.5v7M474.10 526.5v7M477.15 526.5v7M480.20 526.5v7M483.26 526.5v7M486.31 526.5v7M489.36 526.5v7M492.41 526.5v7M495.46 526.5v7M498.52 526.5v7M501.57 526.5v7M504.62 526.5v7M507.67 526.5v7M510.73 526.5v7M513.78 526.5v7M516.83 526.5v7M519.88 526.5v7M522.93 526.5v7M525.99 526.5v7M529.04 526.5v7M532.09 526.5v7M535.14 526.5v7M538.20 526.5v7M541.25 526.5v7M544.30 526.5v7M547.35 526.5v7M550.40 526.5v7M553.46 526.5v7M556.51 526.5v7M559.56 526.5v7M562.61 526.5v7M565.66 526.5v7M568.72 526.5v7M571.77 526.5v7M574.82 526.5v7M577.87 526.5v7M580.93 526.5v7M583.98 526.5v7M587.03 526.5v7M590.08 526.5v7M593.13 526.5v7M596.19 526.5v7M599.24 526.5v7M602.29 526.5v7M605.34 526.5v7M608.40 526.5v7M611.45 526.5v7M614.50 526.5v7M617.55 526.5v7M620.60 526.5v7M623.66 526.5v7M626.71 526.5v7M629.76 526.5v7M632.81 526.5v7M635.87 526.5v7M638.92 526.5v7M641.97 526.5v7M645.02 526.5v7M648.07 526.5v7M651.13 526.5v7M654.18 526.5v7M657.23 526.5v7M660.28 526.5v7M663.34 526.5v7M666.39 526.5v7M669.44 526.5v7M672.49 526.5v7M675.54 526.5v7M678.60 526.5v7M681.65 526.5v7M684.70 526.5v7M687.75 526.5v7M690.80 526.5v7M693.86 526.5v7M696.91 526.5v7M699.96 526.5v7M703.01 526.5v7M706.07 526.5v7M709.12 526.5v7M712.17 526.5v7M715.22 526.5v7M718.27 526.5v7M721.33 526.5v7M724.38 526.5v7M727.43 526.5v7M730.48 526.5v7M733.54 526.5v7M736.59 526.5v7M739.64 526.5v7M742.69 526.5v7M745.74 526.5v7M748.80 526.5v7M751.85 526.5v7M754.90 526.5v7M757.95 526.5v7M761.01 526.5v7M764.06 526.5v7M767.11 526.5v7M770.16 526.5v7M773.21 526.5v7M776.27 526.5v7M779.32 526.5v7M782.37 526.5v7M785.42 526.5v7M788.48 526.5v7M791.53 526.5v7M794.58 526.5v7M797.63 526.5v7M800.68 526.5v7M803.74 526.5v7M806.79 526.5v7M809.84 526.5v7M812.89 526.5v7M815.95 526.5v7M819.00 526.5v7M822.05 526.5v7M825.10 526.5v7M828.15 526.5v7M831.21 526.5v7M834.26 526.5v7M837.31 526.5v7M840.36 526.5v7M843.41 526.5v7M846.47 526.5v7M849.52 526.5v7M852.57 526.5v7M855.62 526.5v7M858.68 526.5v7M861.73 526.5v7M864.78 526.5v7M867.83 526.5v7M870.88 526.5v7M873.94 526.5v7M876.99 526.5v7M880.04 526.5v7M883.09 526.5v7M886.15 526.5v7M889.20 526.5v7M892.25 526.5v7M895.30 526.5v7M898.35 526.5v7M901.41 526.5v7M904.46 526.5v7M907.51 526.5v7M910.56 526.5v7M913.62 526.5v7M916.67 526.5v7M919.72 526.5v7M922.77 526.5v7M925.82 526.5v7M928.88 526.5v7M931.93 526.5v7M934.98 526.5v7M938.03 526.5v7M941.09 526.5v7M944.14 526.5v7M947.19 526.5v7M950.24 526.5v7M953.29 526.5v7M956.35 526.5v7M959.40 526.5v7M962.45 526.5v7M965.50 526.5v7M968.55 526.5v7M971.61 526.5v7M974.66 526.5v7M977.71 526.5v7M980.76 526.5v7M983.82 526.5v7M986.87 526.5v7M989.92 526.5v7M992.97 526.5v7M996.02 526.5v7M999.08 526.5v7M1002.13 526.5v7M1005.18 526.5v7M1008.23 526.5v7M1011.29 526.5v7M1014.34 526.5v7M1017.39 526.5v7M1020.44 526.5v7M1023.49 526.5v7M1026.55 526.5v7M1029.60 526.5v7M1032.65 526.5v7M1035.70 526.5v7M1038.76 526.5v7M1041.81 526.5v7M1044.86 526.5v7M1047.91 526.5v7M1050.96 526.5v7M1054.02 526.5v7M1057.07 526.5v7M1060.12 526.5v7M1063.17 526.5v7M1066.23 526.5v7M1069.28 526.5v7M1072.33 526.5v7M1075.38 526.5v7M1078.43 526.5v7M1081.49 526.5v7M1084.54 526.5v7M1087.59 526.5v7M1090.64 526.5v7M1093.70 526.5v7M1096.75 526.5v7M1099.80 526.5v7M1102.85 526.5v7M1105.90 526.5v7M1108.96 526.5v7M1112.01 526.5v7M1115.06 526.5v7M1118.11 526.5v7M1121.16 526.5v7M1124.22 526.5v7M1127.27 526.5v7M1130.32 526.5v7M1133.37 526.5v7M1136.43 526.5v7M1139.48 526.5v7M1142.53 526.5v7M1145.58 526.5v7M1148.63 526.5v7M1151.69 526.5v7M1154.74 526.5v7M1157.79 526.5v7M1160.84 526.5v7M1163.90 526.5v7M1166.95 526.5v7M1170.00 526.5v7" stroke="#1a1a1a" stroke-width="0.85" fill="none"/>
<line x1="51.5" y1="76.5" x2="59.0" y2="76.5" stroke="#000" stroke-width="1.3"/>
<text class="sans" font-size="9.3" text-anchor="middle" transform="translate(41.6,77.1) rotate(-90)">10</text>
<line x1="51.5" y1="134.9" x2="59.0" y2="134.9" stroke="#000" stroke-width="1.3"/>
<text class="sans" font-size="9.3" text-anchor="middle" transform="translate(41.6,135.5) rotate(-90)">5</text>
<line x1="51.5" y1="193.3" x2="59.0" y2="193.3" stroke="#000" stroke-width="1.3"/>
<text class="sans" font-size="9.3" text-anchor="middle" transform="translate(41.6,193.9) rotate(-90)">0</text>
<line x1="51.5" y1="251.7" x2="59.0" y2="251.7" stroke="#000" stroke-width="1.3"/>
<text class="sans" font-size="9.3" text-anchor="middle" transform="translate(41.6,252.3) rotate(-90)">-5</text>
<line x1="51.5" y1="310.1" x2="59.0" y2="310.1" stroke="#000" stroke-width="1.3"/>
<text class="sans" font-size="9.3" text-anchor="middle" transform="translate(41.6,310.7) rotate(-90)">-10</text>
<line x1="51.5" y1="368.5" x2="59.0" y2="368.5" stroke="#000" stroke-width="1.3"/>
<text class="sans" font-size="9.3" text-anchor="middle" transform="translate(41.6,369.1) rotate(-90)">-15</text>
<line x1="51.5" y1="426.9" x2="59.0" y2="426.9" stroke="#000" stroke-width="1.3"/>
<text class="sans" font-size="9.3" text-anchor="middle" transform="translate(41.6,427.5) rotate(-90)">-20</text>
<line x1="51.5" y1="485.3" x2="59.0" y2="485.3" stroke="#000" stroke-width="1.3"/>
<text class="sans" font-size="9.3" text-anchor="middle" transform="translate(41.6,485.9) rotate(-90)">-25</text>
<text class="sans" font-size="8.6" text-anchor="middle" x="59.0" y="552.2">sty 01</text>
<text class="sans" font-size="8.6" text-anchor="middle" x="89.5" y="552.2">sty 11</text>
<text class="sans" font-size="8.6" text-anchor="middle" x="120.0" y="552.2">sty 21</text>
<text class="sans" font-size="8.6" text-anchor="middle" x="150.6" y="552.2">sty 31</text>
<text class="sans" font-size="8.6" text-anchor="middle" x="181.1" y="552.2">lut 10</text>
<text class="sans" font-size="8.6" text-anchor="middle" x="211.6" y="552.2">lut 20</text>
<text class="sans" font-size="8.6" text-anchor="middle" x="245.2" y="552.2">mar 03</text>
<text class="sans" font-size="8.6" text-anchor="middle" x="281.8" y="552.2">mar 15</text>
<text class="sans" font-size="8.6" text-anchor="middle" x="318.4" y="552.2">mar 27</text>
<text class="sans" font-size="8.6" text-anchor="middle" x="352.0" y="552.2">kwi 07</text>
<text class="sans" font-size="8.6" text-anchor="middle" x="385.6" y="552.2">kwi 18</text>
<text class="sans" font-size="8.6" text-anchor="middle" x="419.2" y="552.2">kwi 29</text>
<text class="sans" font-size="8.6" text-anchor="middle" x="452.7" y="552.2">maj 10</text>
<text class="sans" font-size="8.6" text-anchor="middle" x="486.3" y="552.2">maj 21</text>
<text class="sans" font-size="8.6" text-anchor="middle" x="519.9" y="552.2">cze 01</text>
<text class="sans" font-size="8.6" text-anchor="middle" x="553.5" y="552.2">cze 12</text>
<text class="sans" font-size="8.6" text-anchor="middle" x="587.0" y="552.2">cze 23</text>
<text class="sans" font-size="8.6" text-anchor="middle" x="617.6" y="552.2">lip 03</text>
<text class="sans" font-size="8.6" text-anchor="middle" x="648.1" y="552.2">lip 13</text>
<text class="sans" font-size="8.6" text-anchor="middle" x="678.6" y="552.2">lip 23</text>
<text class="sans" font-size="8.6" text-anchor="middle" x="709.1" y="552.2">sie 02</text>
<text class="sans" font-size="8.6" text-anchor="middle" x="739.6" y="552.2">sie 12</text>
<text class="sans" font-size="8.6" text-anchor="middle" x="770.2" y="552.2">sie 22</text>
<text class="sans" font-size="8.6" text-anchor="middle" x="803.7" y="552.2">wrz 02</text>
<text class="sans" font-size="8.6" text-anchor="middle" x="837.3" y="552.2">wrz 13</text>
<text class="sans" font-size="8.6" text-anchor="middle" x="870.9" y="552.2">wrz 24</text>
<text class="sans" font-size="8.6" text-anchor="middle" x="904.5" y="552.2">paź 05</text>
<text class="sans" font-size="8.6" text-anchor="middle" x="938.0" y="552.2">paź 16</text>
<text class="sans" font-size="8.6" text-anchor="middle" x="971.6" y="552.2">paź 27</text>
<text class="sans" font-size="8.6" text-anchor="middle" x="1002.1" y="552.2">lis 06</text>
<text class="sans" font-size="8.6" text-anchor="middle" x="1029.6" y="552.2">lis 15</text>
<text class="sans" font-size="8.6" text-anchor="middle" x="1057.1" y="552.2">lis 24</text>
<text class="sans" font-size="8.6" text-anchor="middle" x="1087.6" y="552.2">gru 04</text>
<text class="sans" font-size="8.6" text-anchor="middle" x="1121.2" y="552.2">gru 15</text>
<text class="sans" font-size="8.6" text-anchor="middle" x="1154.7" y="552.2">gru 26</text>
<text class="sans" font-size="12" text-anchor="middle" x="614.2" y="581">Data</text>
<text class="sans" font-size="12" text-anchor="middle" transform="translate(14,292.5) rotate(-90)">Temperatura</text>
<text class="mono" font-size="16.66" x="58.2" y="19">Przebieg temperatury w roku 2025</text>
<text class="mono" font-size="16.66" x="58.2" y="40">Region: Morze Barentsa</text>
<text class="mono" font-size="16.55" text-anchor="end" x="1174" y="19">Dane: Reanaliza ERA5 (ECMWF)</text>
<text class="mono" font-size="10" text-anchor="end" x="1159" y="38" style="fill:#5a5a5a">Wizualizacja: Meteomodel.pl</text>
<text class="mono" font-size="11.67" text-anchor="middle" x="614" y="53">Ostatnie dane: 2025-10-04 (5.9°C, anomalia (1981-2010): 4.9°C)</text>
<line x1="97.5" y1="79.0" x2="151.5" y2="79.0" stroke="#000" stroke-width="3" stroke-linecap="round"/>
<text class="sans" font-size="12.3" x="162" y="83.1">2022</text>
<line x1="97.5" y1="93.4" x2="151.5" y2="93.4" stroke="#0000ff" stroke-width="0.8" stroke-linecap="round"/>
<text class="sans" font-size="12.3" x="162" y="97.5">1981-1990</text>
<line x1="97.5" y1="107.9" x2="151.5" y2="107.9" stroke="#228b22" stroke-width="0.8" stroke-linecap="round"/>
<text class="sans" font-size="12.3" x="162" y="112.0">1991-2000</text>
<line x1="97.5" y1="122.3" x2="151.5" y2="122.3" stroke="#ffd21e" stroke-width="0.8" stroke-linecap="round"/>
<text class="sans" font-size="12.3" x="162" y="126.4">2001-2010</text>
<line x1="97.5" y1="136.7" x2="151.5" y2="136.7" stroke="#ff0000" stroke-width="0.8" stroke-linecap="round"/>
<text class="sans" font-size="12.3" x="162" y="140.8">2011-2020</text>
<line x1="97.5" y1="151.2" x2="151.5" y2="151.2" stroke="#ff0000" stroke-width="1.5" stroke-linecap="round" stroke-dasharray="6 6"/>
<text class="sans" font-size="12.3" x="162" y="155.2">1991-2020</text>
<line x1="97.5" y1="165.6" x2="151.5" y2="165.6" stroke="#0000ff" stroke-width="1.5" stroke-linecap="round" stroke-dasharray="6 6"/>
<text class="sans" font-size="12.3" x="162" y="169.7">1951-1980</text>
<line x1="97.5" y1="180.0" x2="151.5" y2="180.0" stroke="#e6e6e6" stroke-width="5" stroke-linecap="round"/>
<text class="sans" font-size="12.3" x="162" y="184.1">max-min 1950-2021</text>
</svg></body></html>
